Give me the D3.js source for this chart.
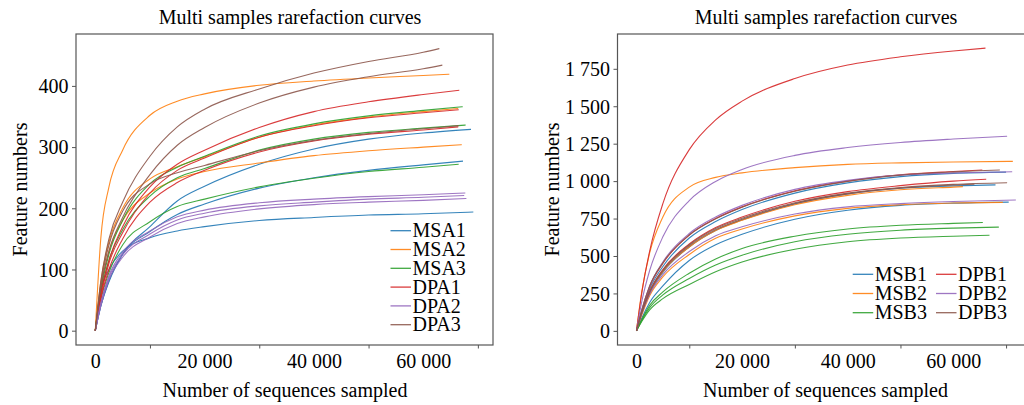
<!DOCTYPE html>
<html><head><meta charset="utf-8">
<script src="https://cdn.jsdelivr.net/npm/d3@7"></script>
<style>
body{margin:0;background:#fff}
</style>
</head><body><svg id="c" width="1024" height="405"></svg>
<script>
// Common rarefaction depths (last value of each curve is at its own end depth)
const xGrid = [0,1000,2500,5000,10000,15000,20000,30000,40000,50000,60000];

// ---------- Left panel ----------
const leftGroups = ["MSA1","MSA2","MSA3","DPA1","DPA2","DPA3"];
const MSA1_ends = [68740, 67280, 69170];
const MSA1 = [
  [0,40,80,125,170,212,236,272,297,313,323,329],
  [0,40,82,125,162,190,207,233,250,262,271,277],
  [0,65,100,130,152,163,170,180,185,189,191,194]
];
const MSA2_ends = [64780, 66400, 67040];
const MSA2 = [
  [0,150,235,295,352,375,387,401,408,413,417,419],
  [0,80,145,200,248,268,284,316,336,349,358,363],
  [0,70,130,180,225,248,260,274,286,294,300,304]
];
const MSA3_ends = [67230, 67770, 66490];
const MSA3 = [
  [0,65,125,180,240,267,285,318,338,351,360,366],
  [0,60,115,165,220,250,265,295,313,324,331,336],
  [0,50,95,140,178,203,215,235,249,260,267,272]
];
const DPA1_ends = [66600, 66500, 66400];
const DPA1 = [
  [0,60,115,170,235,272,295,332,358,374,386,393],
  [0,55,110,160,225,262,282,316,335,348,356,361],
  [0,52,100,150,210,242,262,292,310,321,328,333]
];
const DPA2_ends = [67700, 67500, 67900];
const DPA2 = [
  [0,45,90,128,163,186,197,209,215,219,222,225],
  [0,43,87,124,158,181,192,204,210,215,218,221],
  [0,40,83,120,153,175,186,199,206,210,213,216]
];
const DPA3_ends = [62950, 63500, 66500];
const DPA3 = [
  [0,80,150,210,285,333,362,395,421,440,455,461],
  [0,70,130,185,255,303,332,372,398,415,428,434],
  [0,75,140,195,240,258,270,294,311,322,330,335]
];
const leftYTicks = [0,100,200,300,400];

// ---------- Right panel ----------
const rightGroups = ["MSB1","MSB2","MSB3","DPB1","DPB2","DPB3"];
const MSB1_ends = [70000, 68000, 70500];
const MSB1 = [
  [0,125,280,430,620,730,810,920,988,1030,1052,1060],
  [0,115,250,390,560,670,740,848,915,952,968,975],
  [0,85,190,300,470,575,645,745,805,838,853,860]
];
const MSB2_ends = [71280, 61820, 69390];
const MSB2 = [
  [0,260,520,760,960,1025,1055,1090,1112,1122,1128,1132],
  [0,118,255,395,560,670,738,842,905,942,960,963],
  [0,105,235,360,510,618,680,768,818,842,854,858]
];
const MSB3_ends = [65600, 68630, 66860];
const MSB3 = [
  [0,75,170,260,385,480,550,632,680,705,718,724],
  [0,70,155,240,350,440,505,595,645,672,686,693],
  [0,62,140,215,310,395,460,545,595,620,632,638]
];
const DPB1_ends = [66100, 65500, 66240];
const DPB1 = [
  [0,252,533,850,1210,1409,1534,1685,1775,1830,1869,1888],
  [0,135,295,450,640,750,828,935,1000,1042,1064,1074],
  [0,125,265,410,580,690,760,865,930,970,1000,1012]
];
const DPB2_ends = [70200, 71160, 71850];
const DPB2 = [
  [0,195,403,628,870,998,1078,1172,1224,1258,1281,1300],
  [0,140,300,460,650,760,838,945,1005,1040,1055,1063],
  [0,115,245,375,530,635,695,780,828,850,864,874]
];
const DPB3_ends = [68820, 70200, 64000];
const DPB3 = [
  [0,138,300,455,640,748,826,932,998,1040,1062,1074],
  [0,122,262,405,575,684,752,855,920,957,978,989],
  [0,120,258,400,568,676,745,850,915,953,974,980]
];
const rightYTicks = [0,250,500,750,1000,1250,1500,1750];

const xTickLabels = [0,20000,40000,60000];
const xMinorTicks = [10000,30000,50000,70000];
const colors = ["#1f77b4","#ff7f0e","#2ca02c","#d62728","#9467bd","#8c564b"];
const FONT = '"Liberation Serif","Times New Roman","DejaVu Serif",serif';

const svg = d3.select("#c");
const fmt = v => d3.format(",")(v).replace(/,/g," ");

function buildSeries(arrs, ends){
  return arrs.map((vals,i)=>vals.map((v,j)=>[j<xGrid.length?xGrid[j]:ends[i], v]));
}

function panel(cfg){
  const g = svg.append("g");
  const x = d3.scaleLinear().domain(cfg.xdom).range([cfg.left,cfg.right]);
  const y = d3.scaleLinear().domain(cfg.ydom).range([cfg.bottom,cfg.top]);
  const line = d3.line().x(d=>x(d[0])).y(d=>y(d[1])).curve(d3.curveMonotoneX);
  const clipId = "clip"+cfg.id;
  svg.append("clipPath").attr("id",clipId).append("rect")
    .attr("x",cfg.left).attr("y",cfg.top).attr("width",cfg.right-cfg.left).attr("height",cfg.bottom-cfg.top);
  const lg = g.append("g").attr("clip-path",`url(#${clipId})`);
  cfg.data.forEach((grp,gi)=>{
    buildSeries(grp.vals, grp.ends).forEach(s=>{
      lg.append("path").attr("d",line(s)).attr("fill","none")
        .attr("stroke",colors[gi]).attr("stroke-width",1.1).attr("stroke-opacity",0.9);
    });
  });
  // frame
  g.append("rect").attr("x",cfg.left).attr("y",cfg.top).attr("width",cfg.right-cfg.left).attr("height",cfg.bottom-cfg.top)
    .attr("fill","none").attr("stroke","#555").attr("stroke-width",1.2);
  // y axis
  const ya = g.append("g").attr("transform",`translate(${cfg.left},0)`)
    .call(d3.axisLeft(y).tickValues(cfg.yTicks).tickSize(4).tickPadding(3.5).tickFormat(fmt));
  ya.select(".domain").remove();
  ya.selectAll("line").attr("stroke","#555");
  ya.selectAll("text").attr("dy","0.34em");
  // x axis labels (no tick marks)
  const xa = g.append("g").attr("transform",`translate(0,${cfg.bottom})`)
    .call(d3.axisBottom(x).tickValues(xTickLabels).tickSize(0).tickPadding(9).tickFormat(fmt));
  xa.select(".domain").remove();
  // minor tick marks
  const xm = g.append("g").attr("transform",`translate(0,${cfg.bottom})`)
    .call(d3.axisBottom(x).tickValues(xMinorTicks).tickSize(3.5).tickFormat(""));
  xm.select(".domain").remove();
  xm.selectAll("line").attr("stroke","#555");
  // titles
  g.append("text").attr("x",cfg.titleX).attr("y",23.5).attr("text-anchor","middle")
    .text("Multi samples rarefaction curves");
  g.append("text").attr("x",cfg.xlabX).attr("y",396.5).attr("text-anchor","middle")
    .text("Number of sequences sampled");
  g.append("text").attr("transform",`translate(${cfg.ylabX},189.5) rotate(-90)`).attr("text-anchor","middle")
    .text("Feature numbers");
  // legend
  cfg.legend.forEach((L,i)=>{
    g.append("line").attr("x1",L[0]).attr("x2",L[0]+20.5).attr("y1",L[1]).attr("y2",L[1])
      .attr("stroke",colors[i]).attr("stroke-width",1.3).attr("stroke-opacity",0.9);
    g.append("text").attr("x",L[0]+22).attr("y",L[1]).attr("dy","0.33em").text(cfg.names[i]);
  });
  g.selectAll("text").style("font-family",FONT).style("font-size","20px").style("fill","#000");
}

panel({
  id:"L", left:76, right:493, top:34, bottom:345,
  xdom:[-3530,72770], ydom:[-23.4,484.8], yTicks:leftYTicks,
  titleX:290, xlabX:285, ylabX:27,
  names:leftGroups,
  data:[
    {vals:MSA1, ends:MSA1_ends},{vals:MSA2, ends:MSA2_ends},{vals:MSA3, ends:MSA3_ends},
    {vals:DPA1, ends:DPA1_ends},{vals:DPA2, ends:DPA2_ends},{vals:DPA3, ends:DPA3_ends}
  ],
  legend:[[390.5,230.7],[390.5,249.5],[390.5,268.3],[390.5,287.1],[390.5,305.9],[390.5,324.7]]
});
panel({
  id:"R", left:617.5, right:1034.8, top:34, bottom:345,
  xdom:[-3592,75442], ydom:[-94.4,1982.4], yTicks:rightYTicks,
  titleX:826, xlabX:825.5, ylabX:559,
  names:rightGroups,
  data:[
    {vals:MSB1, ends:MSB1_ends},{vals:MSB2, ends:MSB2_ends},{vals:MSB3, ends:MSB3_ends},
    {vals:DPB1, ends:DPB1_ends},{vals:DPB2, ends:DPB2_ends},{vals:DPB3, ends:DPB3_ends}
  ],
  legend:[[852.7,274.3],[852.7,293.5],[852.7,312.7],[936,274.3],[936,293.5],[936,312.7]]
});
</script></body></html>
